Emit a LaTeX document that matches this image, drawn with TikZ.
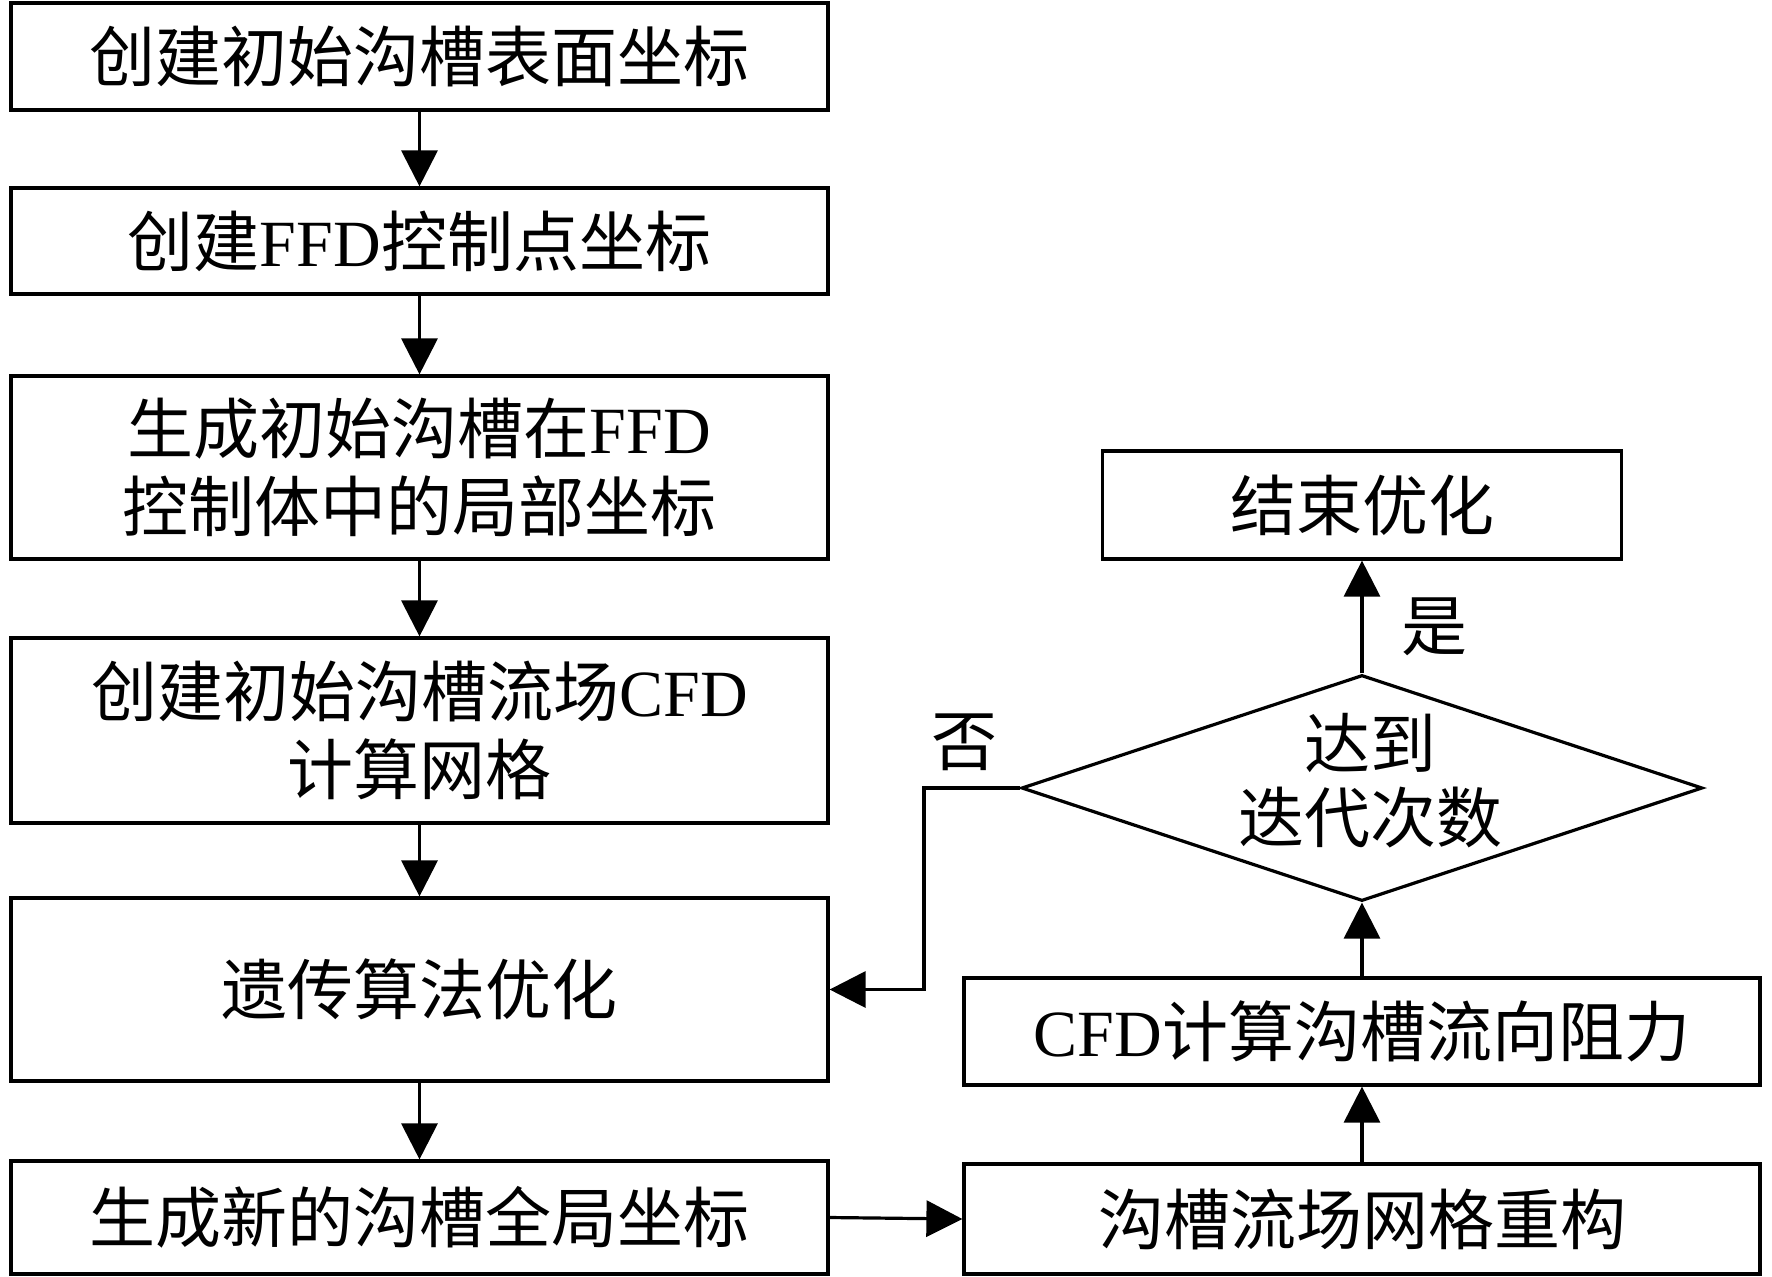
\documentclass[tikz,border=0pt]{standalone}
\usepackage{fontspec}
\setmainfont{Noto Sans CJK SC}
\newfontfamily\lat{Liberation Serif}
\usetikzlibrary{arrows.meta,shapes.geometric}
\begin{document}
\begin{tikzpicture}[x=0.5pt,y=-0.5pt,
  box/.style={draw,line width=1.6pt,inner sep=0pt,align=center,
    font=\fontsize{33}{39}\selectfont},
  lbl/.style={inner sep=0pt,align=center,font=\fontsize{33}{39}\selectfont},
  arr/.style={line width=1.6pt,-{Triangle[length=18pt,width=18pt]}}]
\useasboundingbox (0,0) rectangle (1772,1276);
% left column
\node[box,minimum width=408.5pt,minimum height=53.5pt] (b1) at (419.5,56.5) {创建初始沟槽表面坐标};
\node[box,minimum width=408.5pt,minimum height=53pt] (b2) at (419.5,241) {创建{\lat FFD}控制点坐标};
\node[box,minimum width=408.5pt,minimum height=91.5pt] (b3) at (419.5,467.5) {生成初始沟槽在{\lat FFD}\\控制体中的局部坐标};
\node[box,minimum width=408.5pt,minimum height=92.5pt] (b4) at (419.5,730.5) {创建初始沟槽流场{\lat CFD}\\计算网格};
\node[box,minimum width=408.5pt,minimum height=91.5pt] (b5) at (419.5,989.5) {遗传算法优化};
\node[box,minimum width=408.5pt,minimum height=56.5pt] (b6) at (419.5,1217.5) {生成新的沟槽全局坐标};
% right column
\node[box,minimum width=259.5pt,minimum height=54pt] (end) at (1362,505) {结束优化};
\node[box,diamond,minimum width=340.5pt,minimum height=113pt,aspect=3] (dia) at (1362,788) {};
\node[lbl,font=\fontsize{33}{37}\selectfont] (diatext) at (1370,781) {达到\\迭代次数};
\node[box,minimum width=398pt,minimum height=53.5pt] (cfd) at (1362,1031.5) {{\lat CFD}计算沟槽流向阻力};
\node[box,minimum width=398pt,minimum height=55pt] (rec) at (1362,1219) {沟槽流场网格重构};
% labels
\node[lbl] (no) at (964,742) {否};
\node[lbl] (yes) at (1434,627) {是};
% connectors
\draw[arr] (b1) -- (b2);
\draw[arr] (b2) -- (b3);
\draw[arr] (b3) -- (b4);
\draw[arr] (b4) -- (b5);
\draw[arr] (b5) -- (b6);
\draw[arr] (b6.east) -- (rec.west);
\draw[arr] (rec.north) -- (cfd.south);
\draw[arr] (cfd.north) -- (dia.south);
\draw[arr] (dia.north) -- (end.south);
\coordinate (bend) at (924,788);
\draw[arr] (dia.west) -- (bend) |- (b5.east);
\end{tikzpicture}
\end{document}
